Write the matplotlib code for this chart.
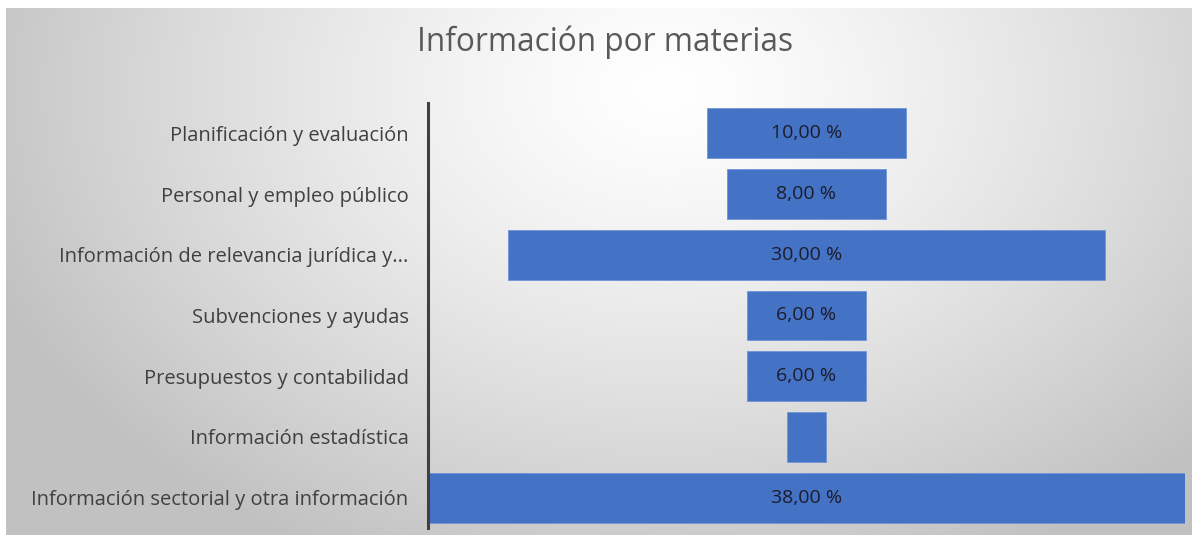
import matplotlib
matplotlib.use("Agg")
import matplotlib.pyplot as plt
import numpy as np

categories = [
    "Planificación y evaluación",
    "Personal y empleo público",
    "Información de relevancia jurídica y...",
    "Subvenciones y ayudas",
    "Presupuestos y contabilidad",
    "Información estadística",
    "Información sectorial y otra información",
]
shares = [10, 8, 30, 6, 6, 2, 38]
bar_labels = ["10,00 %", "8,00 %", "30,00 %", "6,00 %", "6,00 %", "", "38,00 %"]

W, H = 1192, 537
plt.rcParams["font.family"] = ["Open Sans", "DejaVu Sans"]

fig = plt.figure(figsize=(W / 100, H / 100), dpi=100)
fig.patch.set_facecolor("white")

# radial gray background, white near the top middle
bg = fig.add_axes([6 / W, 2 / H, (W - 6) / W, (H - 10) / H])
yy, xx = np.mgrid[0:H - 10, 0:W - 6]
r = np.sqrt(((xx - 660) / 720.0) ** 2 + ((yy - 80) / 520.0) ** 2)
shade = 1.0 - 0.24 * np.clip(r, 0, 1) ** 1.3
bg.imshow(np.dstack([shade] * 3), aspect="auto", interpolation="bilinear")
bg.axis("off")

fig.text(605 / W, 1 - 42 / H, "Información por materias", ha="center", va="center",
         fontsize=22.7, color="#595959")

ax = fig.add_axes([428 / W, 9 / H, 757 / W, 425 / H])
ax.set_facecolor("none")
y = np.arange(len(categories))
vals = np.array(shares, dtype=float)
ax.barh(y, vals, left=-vals / 2, height=0.82, color="#4472C4",
        edgecolor="#6f95d6", linewidth=0.6)
for yi, lab in zip(y, bar_labels):
    if lab:
        ax.text(0, yi, lab, ha="center", va="center", fontsize=14, color="#1c1c2c")

ax.set_xlim(-19, 19)
ax.set_ylim(6.5, -0.5)
ax.set_yticks(y)
ax.set_yticklabels(categories, fontsize=14.5, color="#404040")
ax.tick_params(axis="y", length=0, pad=14)
ax.set_xticks([])
for side in ("top", "right", "bottom"):
    ax.spines[side].set_visible(False)
ax.spines["left"].set_color("#404040")
ax.spines["left"].set_linewidth(2.2)

fig.savefig("out.png", dpi=100)
